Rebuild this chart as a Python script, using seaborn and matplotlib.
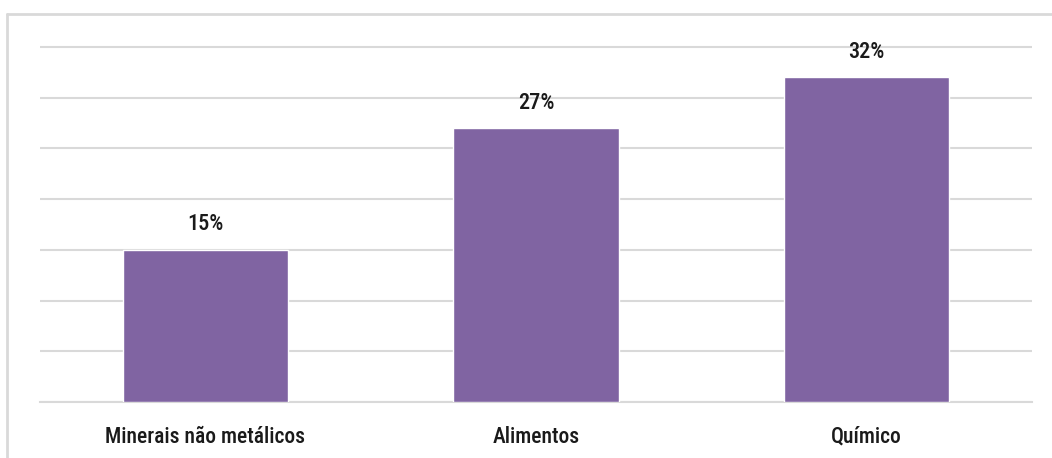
import matplotlib
matplotlib.use("Agg")
import matplotlib.pyplot as plt
import seaborn as sns
import pandas as pd
from matplotlib.lines import Line2D

# dados do gráfico
categorias = ["Minerais não metálicos", "Alimentos", "Químico"]
valores = [15, 27, 32]
rotulos = ["15%", "27%", "32%"]

df = pd.DataFrame({"categoria": categorias, "valor": valores})

sns.set_style("white")
plt.rcParams["font.family"] = ["Roboto Condensed", "Roboto", "DejaVu Sans"]

W, H = 1052, 458
topo = 35.2
escala = (402 - 47) / 35  # pixels por ponto percentual
y_topo = 402 - topo * escala
fig = plt.figure(figsize=(W / 100, H / 100), dpi=100)
ax = fig.add_axes([40 / W, (H - 402) / H, (1032 - 40) / W, (402 - y_topo) / H])

sns.barplot(data=df, x="categoria", y="valor", color="#8064A2", width=0.5,
            saturation=1, ax=ax, zorder=3)

ax.set_ylim(0, topo)
ax.set_yticks(range(0, 36, 5))
ax.yaxis.grid(True, color="#d9d9d9", linewidth=1.5)
ax.set_axisbelow(True)
ax.tick_params(axis="y", left=False, labelleft=False)
ax.tick_params(axis="x", bottom=False, labelsize=15.5, colors="#1a1a1a", pad=13.5)
for lbl in ax.get_xticklabels():
    lbl.set_fontweight("medium")
for lado in ["top", "right", "left"]:
    ax.spines[lado].set_visible(False)
ax.spines["bottom"].set_color("#d9d9d9")
ax.spines["bottom"].set_linewidth(1.5)
ax.set_xlabel("")
ax.set_ylabel("")

ax.bar_label(ax.containers[0], labels=rotulos, padding=10.5, fontsize=16,
             fontweight="medium", color="#1a1a1a")

# moldura da área do gráfico (cortada na imagem)
fig.add_artist(Line2D([6.5 / W, 6.5 / W], [0, (H - 14) / H], color="#d9d9d9", linewidth=2))
fig.add_artist(Line2D([6.5 / W, 1], [(H - 14) / H, (H - 14) / H], color="#d9d9d9", linewidth=2))

plt.savefig("out.png", dpi=100)
